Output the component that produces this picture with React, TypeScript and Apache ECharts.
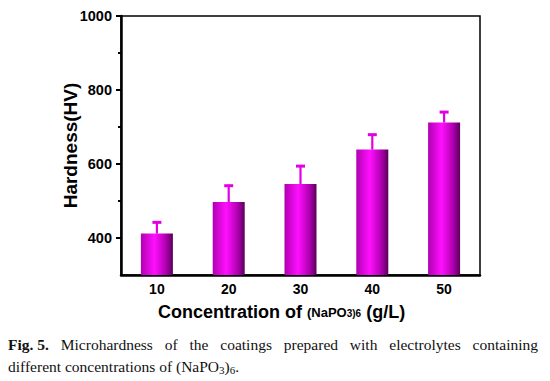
import React, { useEffect, useRef } from "react";
import * as echarts from "echarts";

const categories = ["10", "20", "30", "40", "50"];
const hardness = [412, 497, 546, 639, 712];
const errorUp = [33, 47, 51, 43, 31];
const yMajorTicks = [400, 600, 800, 1000];
const yMinorTicks = [500, 700, 900];
const yMin = 300;
const yMax = 1000;

const xTitleParts = [
  { t: "Concentration of ", size: 18 },
  { t: "(NaPO", size: 13 },
  { t: "3)6", size: 10 },
  { t: " (g/L)", size: 18 },
];
const captionLine1 = ["Microhardness", "of", "the", "coatings", "prepared", "with", "electrolytes", "containing"];
const captionLabel = "Fig. 5.";
const captionLine2 = "different concentrations of (NaPO";

const SANS = "'Liberation Sans', Arial, sans-serif";
const SERIF = "'Liberation Serif', 'Times New Roman', serif";

export default function App() {
  const ref = useRef<HTMLDivElement>(null);
  useEffect(() => {
    document.body.style.margin = "0";
    if (!ref.current) return;
    const chart = echarts.init(ref.current, null, { renderer: "svg" });

    const canvas = document.createElement("canvas");
    const ctx = canvas.getContext("2d")!;
    const capSize = 15.5;
    const measure = (t: string, bold = false, size = capSize, fam = SERIF) => {
      ctx.font = `${bold ? "bold " : ""}${size}px ${fam}`;
      return ctx.measureText(t).width;
    };

    const titleEls: any[] = [];
    const baseY = 318;
    let tx = 158;
    xTitleParts.forEach((p) => {
      titleEls.push({
        type: "text",
        x: tx,
        y: baseY - (0.693 * p.size) / 2 - (p.size < 18 ? 1 : 0),
        style: {
          text: p.t,
          fontFamily: SANS,
          fontWeight: "bold",
          fontSize: p.size,
          fill: "#000",
          textAlign: "left",
          textVerticalAlign: "middle",
        },
      });
      tx += measure(p.t, true, p.size, SANS);
    });

    const lx0 = 8, lx1 = 538, ly1 = 344, ly2 = 366;
    const tokens = [{ t: captionLabel, b: true }, ...captionLine1.map((t) => ({ t, b: false }))];
    const widths = tokens.map((k) => measure(k.t, k.b));
    const total = widths.reduce((a, b) => a + b, 0);
    const gap = (lx1 - lx0 - total) / (tokens.length - 1);
    const captionEls: any[] = [];
    let cx = lx0;
    tokens.forEach((k, i) => {
      captionEls.push({
        type: "text",
        x: cx,
        y: ly1,
        style: {
          text: k.t,
          fontFamily: SERIF,
          fontSize: capSize,
          fontWeight: k.b ? "bold" : "normal",
          fill: "#111",
          textAlign: "left",
          textVerticalAlign: "middle",
        },
      });
      cx += widths[i] + gap;
    });
    const seg = [
      { t: captionLine2, sub: false },
      { t: "3", sub: true },
      { t: ")", sub: false },
      { t: "6", sub: true },
      { t: ".", sub: false },
    ];
    let x2 = lx0;
    seg.forEach((s) => {
      const size = s.sub ? 11 : capSize;
      captionEls.push({
        type: "text",
        x: x2,
        y: s.sub ? ly2 + 4 : ly2,
        style: {
          text: s.t,
          fontFamily: SERIF,
          fontSize: size,
          fill: "#111",
          textAlign: "left",
          textVerticalAlign: "middle",
        },
      });
      x2 += measure(s.t, false, size);
    });

    const axisFont = { fontFamily: SANS, fontWeight: "bold" as const, color: "#000", fontSize: 14 };

    chart.setOption({
      animation: false,
      backgroundColor: "#fff",
      grid: {
        left: 121,
        right: 70,
        top: 16,
        bottom: 106,
        show: true,
        borderColor: "#000",
        borderWidth: 1.5,
        backgroundColor: "transparent",
      },
      xAxis: [
        {
          type: "category",
          data: categories,
          axisLine: { lineStyle: { color: "#000", width: 2.5 } },
          axisTick: { alignWithLabel: true, length: 4, lineStyle: { color: "#000", width: 2 } },
          axisLabel: { ...axisFont, margin: 7 },
          splitLine: { show: false },
        },
        {
          type: "category",
          data: categories,
          position: "bottom",
          axisLine: { show: false },
          axisTick: { length: 4, lineStyle: { color: "#000", width: 2 } },
          axisLabel: { show: false },
          splitLine: { show: false },
        },
      ],
      yAxis: [
        {
          type: "value",
          min: yMin,
          max: yMax,
          axisLine: { show: true, lineStyle: { color: "#000", width: 2.5 } },
          axisTick: { show: true, length: 5, customValues: yMajorTicks, lineStyle: { color: "#000", width: 2 } },
          axisLabel: {
            ...axisFont,
            fontSize: 14.5,
            margin: 9,
            customValues: yMajorTicks,
            formatter: (v: number) => String(v),
          },
          splitLine: { show: false },
          name: "Hardness(HV)",
          nameLocation: "middle",
          nameGap: 41,
          nameMoveOverlap: false,
          nameTextStyle: { fontFamily: SANS, fontWeight: "bold", fontSize: 19, color: "#000" },
        },
        {
          type: "value",
          min: yMin,
          max: yMax,
          position: "left",
          axisLine: { show: false },
          axisTick: { show: true, length: 3, customValues: yMinorTicks, lineStyle: { color: "#000", width: 2 } },
          axisLabel: { show: false },
          splitLine: { show: false },
        },
      ],
      series: [
        {
          type: "bar",
          data: hardness,
          barWidth: 32,
          itemStyle: {
            color: new echarts.graphic.LinearGradient(0, 0, 1, 0, [
              { offset: 0, color: "#B000B0" },
              { offset: 0.42, color: "#FF10FF" },
              { offset: 0.78, color: "#B000B0" },
              { offset: 1, color: "#5A005A" },
            ]),
          },
        },
        {
          type: "custom",
          z: 5,
          data: categories.map((_, i) => [i, hardness[i], errorUp[i]]),
          encode: { x: 0, y: 1 },
          renderItem: (params: any, api: any) => {
            const i = api.value(0);
            const base = api.coord([i, api.value(1)]);
            const top = api.coord([i, api.value(1) + api.value(2)]);
            const style = { stroke: "#E400E4", lineWidth: 2.2 };
            return {
              type: "group",
              children: [
                { type: "line", shape: { x1: base[0], y1: base[1], x2: top[0], y2: top[1] }, style },
                {
                  type: "line",
                  shape: { x1: top[0] - 4.5, y1: top[1] + 1, x2: top[0] + 4.5, y2: top[1] + 1 },
                  style: { stroke: "#E400E4", lineWidth: 3 },
                },
              ],
            };
          },
        },
      ],
      graphic: [...titleEls, ...captionEls],
    });
    return () => chart.dispose();
  }, []);
  return <div ref={ref} style={{ width: 550, height: 381 }} />;
}
